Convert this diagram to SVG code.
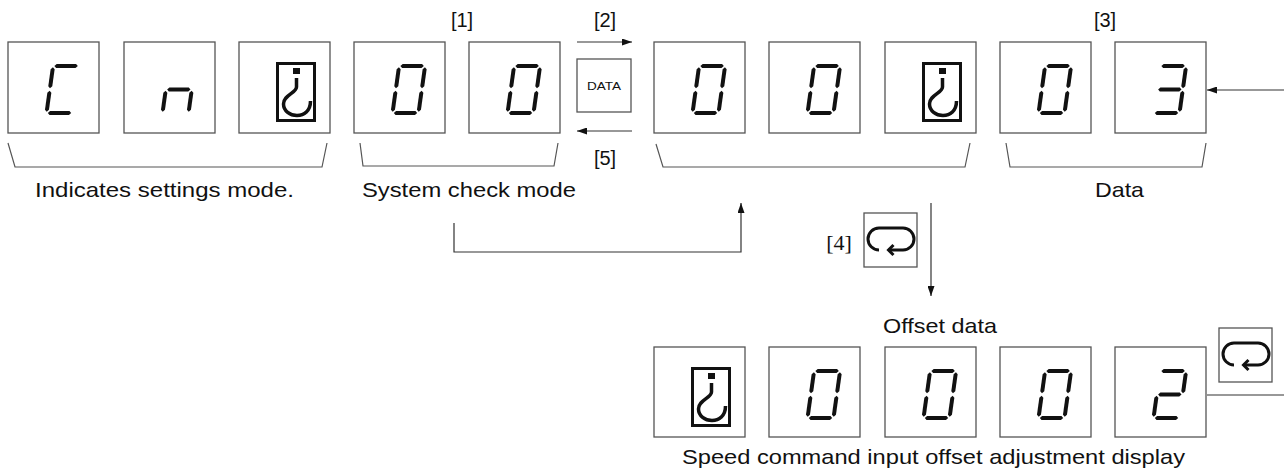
<svg xmlns="http://www.w3.org/2000/svg" xmlns:xlink="http://www.w3.org/1999/xlink" width="1284" height="473" viewBox="0 0 1284 473">
<style>
.box{fill:#fff;stroke:#555;stroke-width:1.3}
.seg{fill:#111}
.ln{fill:none;stroke:#333;stroke-width:1.2}
.br{fill:none;stroke:#555;stroke-width:1.2}
.lbl{font-family:"Liberation Sans",Arial,sans-serif;font-size:21px;fill:#111}
.num{font-family:"Liberation Sans",Arial,sans-serif;font-size:20px;fill:#111}
.ser{font-family:"Liberation Serif","Times New Roman",serif;font-size:22px;fill:#111}
.sym{fill:none;stroke:#111;stroke-width:3}
</style>
<defs>
<marker id="ah" viewBox="0 0 10 7" refX="10" refY="3.5" markerWidth="10" markerHeight="7" markerUnits="userSpaceOnUse" orient="auto">
<path d="M0,0 L10,3.5 L0,7 z" fill="#111"/>
</marker>
<polygon id="sa" points="1.3,-47 3.3,-49 22.7,-49 24.7,-47 22.7,-45 3.3,-45"/>
<polygon id="sg" points="1.3,-23.5 3.3,-25.5 22.7,-25.5 24.7,-23.5 22.7,-21.5 3.3,-21.5"/>
<polygon id="sd" points="1.3,0 3.3,-2 22.7,-2 24.7,0 22.7,2 3.3,2"/>
<polygon id="sf" points="0,-45.7 2,-43.7 2,-26.8 0,-24.8 -2,-26.8 -2,-43.7"/>
<polygon id="se" points="0,-22.2 2,-20.2 2,-3.3 0,-1.3 -2,-3.3 -2,-20.2"/>
<polygon id="sb" points="26,-45.7 28,-43.7 28,-26.8 26,-24.8 24,-26.8 24,-43.7"/>
<polygon id="sc" points="26,-22.2 28,-20.2 28,-3.3 26,-1.3 24,-3.3 24,-20.2"/>
<g id="d0" class="seg"><use href="#sa"/><use href="#sb"/><use href="#sc"/><use href="#sd"/><use href="#se"/><use href="#sf"/></g>
<g id="dC" class="seg"><use href="#sa"/><use href="#sd"/><use href="#se"/><use href="#sf"/></g>
<g id="dn" class="seg"><use href="#sg"/><use href="#se"/><use href="#sc"/></g>
<g id="d3" class="seg"><use href="#sa"/><use href="#sb"/><use href="#sg"/><use href="#sc"/><use href="#sd"/></g>
<g id="d2" class="seg"><use href="#sa"/><use href="#sb"/><use href="#sg"/><use href="#se"/><use href="#sd"/></g>
<g id="hook">
<rect x="38.5" y="21.5" width="37" height="57" class="sym"/>
<rect x="54" y="26" width="7" height="6" fill="#111"/>
<path d="M57.5,36 V45 C57.5,51 44.5,53 44.5,62 C44.5,69 51,73.5 58,73.5 C65,73.5 71.5,69 71.5,59" fill="none" stroke="#111" stroke-width="3.5"/>
</g>
<g id="loop">
<path d="M15,37 A11,11 0 0,1 15,15 H39 A11,11 0 0,1 39,37 H24.5" fill="none" stroke="#111" stroke-width="3"/>
<path d="M29.5,32 L24.5,37 L29.5,42" fill="none" stroke="#111" stroke-width="3"/>
</g>
</defs>
<rect width="1284" height="473" fill="#fff"/>

<g id="settings-C">
<rect class="box" x="8" y="42" width="91" height="91"/>
<use href="#dC" transform="translate(46.5,113) skewX(-8)"/>
</g>
<g id="settings-n">
<rect class="box" x="124" y="42" width="91" height="91"/>
<use href="#dn" transform="translate(162.5,113) skewX(-8)"/>
</g>
<g id="settings-hook">
<rect class="box" x="239" y="42" width="91" height="91"/>
<use href="#hook" transform="translate(239,42)"/>
</g>
<g id="syscheck-0a">
<rect class="box" x="354" y="42" width="91" height="91"/>
<use href="#d0" transform="translate(392.5,113) skewX(-8)"/>
</g>
<g id="syscheck-0b">
<rect class="box" x="469" y="42" width="91" height="91"/>
<use href="#d0" transform="translate(507.5,113) skewX(-8)"/>
</g>
<g id="data-key">
<rect class="box" x="577" y="59" width="54" height="53"/>
<text x="587" y="90" font-family="Liberation Sans,Arial,sans-serif" font-size="11.5" textLength="34" lengthAdjust="spacingAndGlyphs" fill="#111">DATA</text>
</g>
<g id="mode-0a">
<rect class="box" x="654" y="42" width="91" height="91"/>
<use href="#d0" transform="translate(692.5,113) skewX(-8)"/>
</g>
<g id="mode-0b">
<rect class="box" x="769" y="42" width="91" height="91"/>
<use href="#d0" transform="translate(807.5,113) skewX(-8)"/>
</g>
<g id="mode-hook">
<rect class="box" x="885" y="42" width="91" height="91"/>
<use href="#hook" transform="translate(885,42)"/>
</g>
<g id="data-0">
<rect class="box" x="1000" y="42" width="91" height="91"/>
<use href="#d0" transform="translate(1038.5,113) skewX(-8)"/>
</g>
<g id="data-3">
<rect class="box" x="1115" y="42" width="91" height="91"/>
<use href="#d3" transform="translate(1153.5,113) skewX(-8)"/>
</g>

<g id="loop-key-4">
<rect class="box" x="864" y="213" width="53" height="54"/>
<use href="#loop" transform="translate(864,213)"/>
</g>
<g id="loop-key-2">
<rect class="box" x="1219" y="328" width="53" height="54"/>
<use href="#loop" transform="translate(1219,328)"/>
</g>

<g id="offset-hook">
<rect class="box" x="654" y="347" width="91" height="90"/>
<use href="#hook" transform="translate(654,347)"/>
</g>
<g id="offset-0a">
<rect class="box" x="769" y="347" width="91" height="90"/>
<use href="#d0" transform="translate(807.5,418) skewX(-8)"/>
</g>
<g id="offset-0b">
<rect class="box" x="885" y="347" width="91" height="90"/>
<use href="#d0" transform="translate(923.5,418) skewX(-8)"/>
</g>
<g id="offset-0c">
<rect class="box" x="1000" y="347" width="91" height="90"/>
<use href="#d0" transform="translate(1038.5,418) skewX(-8)"/>
</g>
<g id="offset-2">
<rect class="box" x="1115" y="347" width="91" height="90"/>
<use href="#d2" transform="translate(1153.5,418) skewX(-8)"/>
</g>

<g id="brackets">
<polyline class="br" points="8,143 15,167 322,167 327,143"/>
<polyline class="br" points="360,143 363,166 554,166 558,143"/>
<polyline class="br" points="656,144 663,167 965,167 970,143"/>
<polyline class="br" points="1006,143 1010,167 1202,167 1206,143"/>
</g>

<g id="connectors">
<line class="ln" x1="577" y1="42" x2="632" y2="42" marker-end="url(#ah)"/>
<line class="ln" x1="632" y1="131" x2="577" y2="131" marker-end="url(#ah)"/>
<line class="ln" x1="1284" y1="90" x2="1207" y2="90" marker-end="url(#ah)"/>
<polyline class="ln" points="454,223 454,252 741,252 741,203" marker-end="url(#ah)"/>
<line class="ln" x1="931" y1="203" x2="931" y2="296" marker-end="url(#ah)"/>
<line class="ln" x1="1207" y1="395" x2="1284" y2="395"/>
</g>

<g id="labels">
<text class="num" x="462" y="27" text-anchor="middle">[1]</text>
<text class="num" x="605" y="27" text-anchor="middle">[2]</text>
<text class="num" x="1105" y="27" text-anchor="middle">[3]</text>
<text class="ser" x="839" y="250" text-anchor="middle">[4]</text>
<text class="num" x="605" y="165" text-anchor="middle">[5]</text>
<text class="lbl" x="35" y="197" textLength="259" lengthAdjust="spacingAndGlyphs">Indicates settings mode.</text>
<text class="lbl" x="362" y="197" textLength="214" lengthAdjust="spacingAndGlyphs">System check mode</text>
<text class="lbl" x="1095" y="197" textLength="49" lengthAdjust="spacingAndGlyphs">Data</text>
<text class="lbl" x="883" y="333" textLength="114" lengthAdjust="spacingAndGlyphs">Offset data</text>
<text class="lbl" x="682" y="464" textLength="503" lengthAdjust="spacingAndGlyphs">Speed command input offset adjustment display</text>
</g>
</svg>
